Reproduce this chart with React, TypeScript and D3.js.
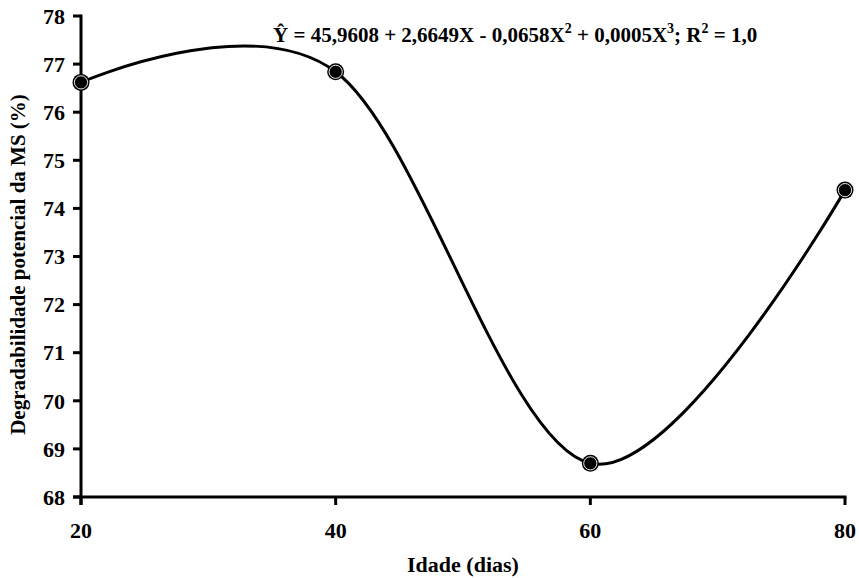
import * as d3 from 'd3';

const ages = [20, 40, 60, 80];
const degradability = [76.62, 76.84, 68.7, 74.38];
const yTicks = [68, 69, 70, 71, 72, 73, 74, 75, 76, 77, 78];
const xTicks = [20, 40, 60, 80];

const W = 859;
const H = 578;
const m = { top: 16, right: 14, bottom: 81, left: 81 };
const font = '"Liberation Serif", "Times New Roman", serif';

export default function App() {
  const x = d3.scaleLinear().domain([20, 80]).range([m.left, W - m.right]);
  const y = d3.scaleLinear().domain([68, 78]).range([H - m.bottom, m.top]);

  const pts = ages.map((a, i) => [x(a), y(degradability[i])] as [number, number]);
  // Excel style smoothed line ~ uniform catmull-rom
  const line = d3.line().curve(d3.curveCardinal.tension(0));
  const path = line(pts) ?? '';

  const x0 = m.left;
  const y0 = H - m.bottom;

  return (
    <svg
      width={W}
      height={H}
      style={{ position: 'absolute', left: 0, top: 0, background: '#fff' }}
      fontFamily={font}
      fontWeight="bold"
    >
      <path d={path} fill="none" stroke="#000" strokeWidth={3} />

      {/* axes */}
      <line x1={x0} x2={x0} y1={y(78) - 1.5} y2={y0 + 8} stroke="#000" strokeWidth={3} />
      <line x1={x0 - 8} x2={x(80) + 1.5} y1={y0} y2={y0} stroke="#000" strokeWidth={3} />
      {yTicks.map((t) => (
        <g key={'y' + t}>
          <line x1={x0 - 8} x2={x0} y1={y(t)} y2={y(t)} stroke="#000" strokeWidth={3} />
          <text x={x0 - 16} y={y(t)} dy="0.35em" textAnchor="end" fontSize={22}>
            {t}
          </text>
        </g>
      ))}
      {xTicks.map((t) => (
        <g key={'x' + t}>
          <line x1={x(t)} x2={x(t)} y1={y0} y2={y0 + 8} stroke="#000" strokeWidth={3} />
          <text x={x(t)} y={y0 + 41} textAnchor="middle" fontSize={22}>
            {t}
          </text>
        </g>
      ))}

      {pts.map(([px, py], i) => (
        <g key={'p' + i}>
          <circle cx={px} cy={py} r={8.5} fill="#000" />
          <circle cx={px} cy={py} r={6.6} fill="none" stroke="#fff" strokeWidth={0.9} />
        </g>
      ))}

      <text x={463} y={H - 6} textAnchor="middle" fontSize={22}>
        Idade (dias)
      </text>
      <text
        transform={`translate(25, ${(y(68) + y(78)) / 2 + 8}) rotate(-90)`}
        textAnchor="middle"
        fontSize={21}
      >
        Degradabilidade potencial da MS (%)
      </text>

      <text x={273} y={42} fontSize={21}>
        <tspan>Ŷ = 45,9608 + 2,6649X - 0,0658X</tspan>
        <tspan dy={-9} fontSize={14}>2</tspan>
        <tspan dy={9}> + 0,0005X</tspan>
        <tspan dy={-9} fontSize={14}>3</tspan>
        <tspan dy={9}>; R</tspan>
        <tspan dy={-9} fontSize={14}>2</tspan>
        <tspan dy={9}> = 1,0</tspan>
      </text>
    </svg>
  );
}
